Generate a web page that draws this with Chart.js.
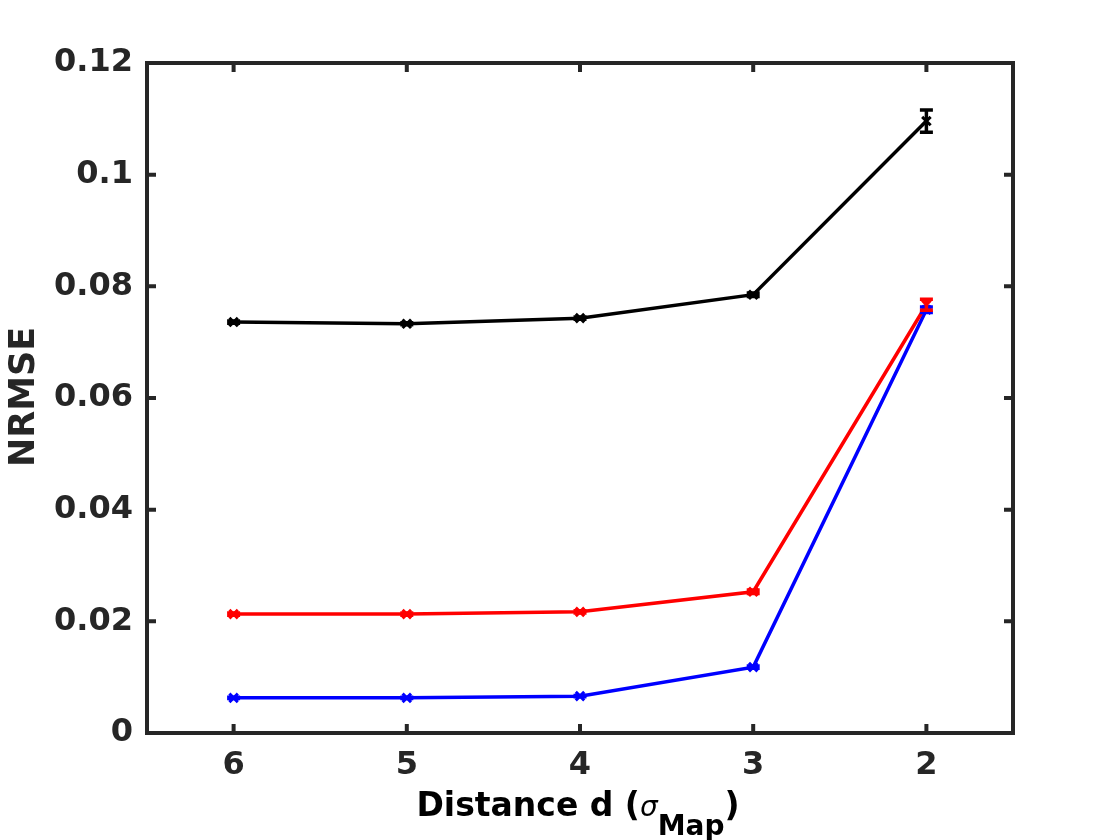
<!DOCTYPE html>
<html>
<head>
<meta charset="utf-8">
<script src="https://cdn.jsdelivr.net/npm/chart.js@4"></script>
<style>
  body { margin: 0; background: #fff; }
  canvas { display: block; }
</style>
</head>
<body>
<canvas id="nrmseChart" width="1120" height="840"></canvas>
<script>
// Data
const distances = ['6', '5', '4', '3', '2'];
const blackValues = [0.0736, 0.0733, 0.0743, 0.0785, 0.1096];
const blackErrors = [0.0002, 0.0002, 0.0002, 0.0003, 0.0020];
const redValues = [0.0213, 0.0213, 0.0217, 0.0253, 0.0767];
const redErrors = [0.0002, 0.0002, 0.0002, 0.0003, 0.0010];
const blueValues = [0.0063, 0.0063, 0.0066, 0.0118, 0.0758];
const blueErrors = [0.0001, 0.0001, 0.0001, 0.0002, 0.0005];
const yTicks = [0, 0.02, 0.04, 0.06, 0.08, 0.1, 0.12];

const axisColor = '#262626';
const tickFont = { family: 'DejaVu Sans', size: 32, weight: 'bold' };

function series(values, errors, color) {
    return {
        data: values,
        errors: errors,
        borderColor: color,
        backgroundColor: color,
        borderWidth: 3.5,
        pointStyle: 'crossRot',
        pointRadius: 6,
        pointBorderWidth: 3,
        tension: 0
    };
}

// error bars from each dataset's errors array (last dataset first, like the lines)
const errorBars = {
    id: 'errorBars',
    afterDatasetsDraw(chart) {
        const ctx = chart.ctx;
        const x = chart.scales.x, y = chart.scales.y;
        chart.data.datasets.slice().reverse().forEach(function (ds) {
            ctx.save();
            ctx.strokeStyle = ds.borderColor;
            ctx.lineWidth = 3.5;
            ds.data.forEach(function (v, i) {
                const px = x.getPixelForValue(i);
                const top = y.getPixelForValue(v + ds.errors[i]);
                const bot = y.getPixelForValue(v - ds.errors[i]);
                ctx.beginPath();
                ctx.moveTo(px, top); ctx.lineTo(px, bot);
                ctx.moveTo(px - 6.5, top); ctx.lineTo(px + 6.5, top);
                ctx.moveTo(px - 6.5, bot); ctx.lineTo(px + 6.5, bot);
                ctx.stroke();
            });
            ctx.restore();
        });
    }
};

// MATLAB-like box with inward ticks, plus axis titles
const boxAndTitles = {
    id: 'boxAndTitles',
    afterDraw(chart) {
        const ctx = chart.ctx;
        const a = chart.chartArea;
        const x = chart.scales.x, y = chart.scales.y;
        const len = 9;
        ctx.save();
        ctx.strokeStyle = axisColor;
        ctx.lineWidth = 4;
        ctx.beginPath();
        distances.forEach(function (d, i) {
            const px = x.getPixelForValue(i);
            ctx.moveTo(px, a.bottom); ctx.lineTo(px, a.bottom - len);
            ctx.moveTo(px, a.top); ctx.lineTo(px, a.top + len);
        });
        yTicks.forEach(function (t) {
            const py = y.getPixelForValue(t);
            ctx.moveTo(a.left, py); ctx.lineTo(a.left + len, py);
            ctx.moveTo(a.right, py); ctx.lineTo(a.right - len, py);
        });
        ctx.stroke();
        ctx.strokeRect(a.left, a.top, a.right - a.left, a.bottom - a.top);

        // y title
        ctx.fillStyle = axisColor;
        ctx.font = 'bold 35px "DejaVu Sans"';
        ctx.textAlign = 'center';
        ctx.textBaseline = 'middle';
        ctx.translate(25, 397);
        ctx.rotate(-Math.PI / 2);
        ctx.fillText('NRMSE', 0, 0);
        ctx.setTransform(1, 0, 0, 1, 0, 0);

        // x title: Distance d (σ_Map)
        ctx.fillStyle = '#000';
        ctx.textAlign = 'left';
        ctx.textBaseline = 'alphabetic';
        const mainFont = 'bold 33px "DejaVu Sans"';
        const sigmaFont = 'oblique 28px "DejaVu Sans"';
        const subFont = 'bold 28px "DejaVu Sans"';
        const parts = [
            { t: 'Distance d (', f: mainFont, dy: 0 },
            { t: 'σ', f: sigmaFont, dy: 0 },
            { t: 'Map', f: subFont, dy: 19 },
            { t: ')', f: mainFont, dy: 0 }
        ];
        let total = 0;
        parts.forEach(function (p) { ctx.font = p.f; p.w = ctx.measureText(p.t).width; total += p.w; });
        let cx = 578 - total / 2;
        parts.forEach(function (p) {
            ctx.font = p.f;
            ctx.fillText(p.t, cx, 816 + p.dy);
            cx += p.w;
        });
        ctx.restore();
    }
};

new Chart(document.getElementById('nrmseChart').getContext('2d'), {
    type: 'line',
    data: {
        labels: distances,
        datasets: [
            series(blackValues, blackErrors, '#000000'),
            series(redValues, redErrors, '#ff0000'),
            series(blueValues, blueErrors, '#0000ff')
        ]
    },
    options: {
        responsive: false,
        animation: false,
        layout: { padding: { top: 63, right: 107, left: 0, bottom: 0 } },
        plugins: { legend: { display: false }, tooltip: { enabled: false } },
        scales: {
            x: {
                type: 'category',
                offset: true,
                grid: { display: false, drawTicks: false },
                border: { display: false },
                ticks: { color: axisColor, font: tickFont, padding: 13 },
                afterFit(scale) { scale.height = 107; }
            },
            y: {
                min: 0,
                max: 0.12,
                grid: { display: false, drawTicks: false },
                border: { display: false },
                afterBuildTicks(scale) { scale.ticks = yTicks.map(v => ({ value: v })); },
                ticks: {
                    color: axisColor,
                    font: tickFont,
                    padding: 14,
                    callback: v => String(Number(v.toFixed(2)))
                },
                afterFit(scale) { scale.width = 147; }
            }
        }
    },
    plugins: [errorBars, boxAndTitles]
});
</script>
</body>
</html>
